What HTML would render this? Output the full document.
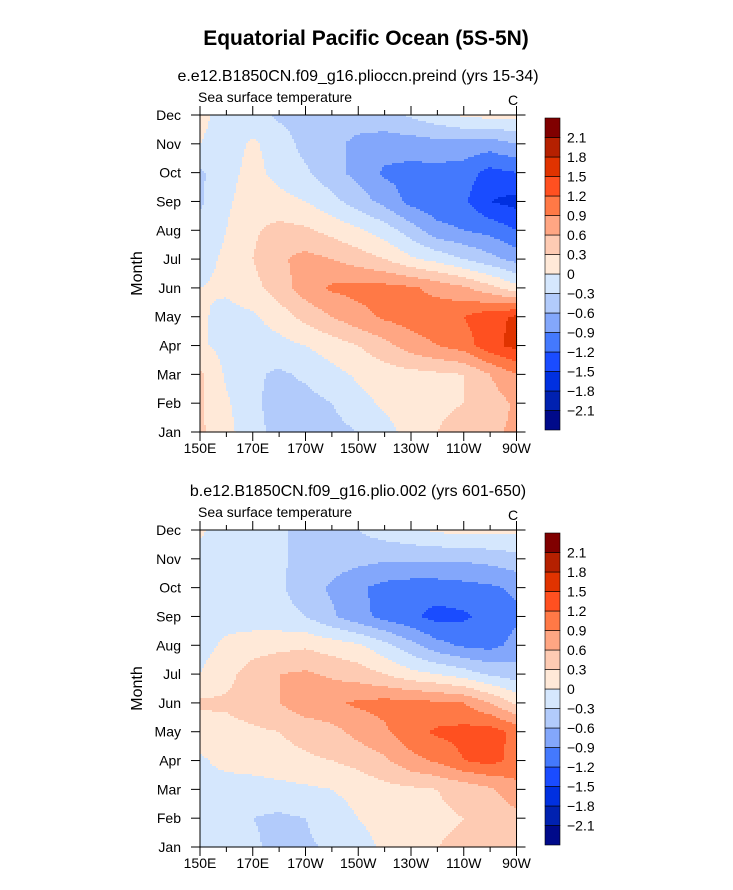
<!DOCTYPE html>
<html><head><meta charset="utf-8"><style>
body{margin:0;background:#fff;width:733px;height:890px;overflow:hidden}
svg{display:block}
text{font-family:"Liberation Sans",sans-serif;fill:#000}
</style></head><body>
<svg id="fig" width="733" height="890" xmlns="http://www.w3.org/2000/svg">
<text x="366" y="45" font-size="21" font-weight="bold" text-anchor="middle">Equatorial Pacific Ocean (5S-5N)</text>
</svg>
<script>
const months=["Jan","Feb","Mar","Apr","May","Jun","Jul","Aug","Sep","Oct","Nov","Dec"];
const lonTicks=["150E","170E","170W","150W","130W","110W","90W"];
const levels=[-2.1,-1.8,-1.5,-1.2,-0.9,-0.6,-0.3,0,0.3,0.6,0.9,1.2,1.5,1.8,2.1];
const levelLabels=["\u22122.1","\u22121.8","\u22121.5","\u22121.2","\u22120.9","\u22120.6","\u22120.3","0","0.3","0.6","0.9","1.2","1.5","1.8","2.1"];
const colors=["#000a8a","#0021b0","#0030e0","#1a4cff","#4479fd","#83a7fb","#b2cbfb","#d5e7fd","#ffe9d8","#fecbb3","#ffa683","#ff7946","#ff5020","#e03300","#b52000","#800000"];
// rows Jan..Dec, columns 150E..90W every 10 degrees
const sstA=[
[0.35,0.1,-0.2,-0.4,-0.45,-0.4,-0.3,-0.1,0.1,0.3,0.5,0.55,0.65],
[0.35,0.05,-0.25,-0.4,-0.4,-0.3,-0.1,0.05,0.15,0.2,0.3,0.45,0.65],
[0.35,-0.05,-0.25,-0.35,-0.25,-0.1,0.05,0.15,0.2,0.25,0.3,0.6,0.9],
[0.05,-0.1,-0.15,-0.1,0.0,0.15,0.3,0.5,0.75,0.9,1.05,1.4,1.6],
[0.05,-0.1,-0.05,0.15,0.4,0.6,0.8,0.95,1.05,1.1,1.2,1.4,1.55],
[0.0,0.05,0.2,0.45,0.75,0.95,1.0,1.0,0.95,0.8,0.65,0.4,0.1],
[-0.1,0.05,0.3,0.55,0.7,0.6,0.45,0.3,0.05,-0.1,-0.3,-0.5,-0.7],
[-0.2,0.0,0.25,0.4,0.35,0.2,0.05,-0.15,-0.45,-0.8,-0.9,-1.0,-1.2],
[-0.35,-0.05,0.15,0.1,0.0,-0.2,-0.45,-0.7,-1.0,-1.1,-1.15,-1.5,-1.6],
[-0.35,-0.1,0.1,-0.1,-0.25,-0.5,-0.7,-0.95,-1.0,-1.0,-1.05,-1.3,-1.2],
[0.0,-0.15,0.05,-0.15,-0.4,-0.5,-0.7,-0.75,-0.75,-0.7,-0.7,-0.75,-0.6],
[0.1,-0.15,-0.2,-0.35,-0.4,-0.4,-0.4,-0.4,-0.25,-0.1,0.05,0.1,0.1]];
const sstB=[
[-0.1,-0.15,-0.25,-0.4,-0.35,-0.25,-0.1,0.05,0.2,0.3,0.35,0.4,0.45],
[-0.1,-0.15,-0.3,-0.35,-0.3,-0.15,0.0,0.1,0.2,0.25,0.3,0.4,0.5],
[-0.1,-0.15,-0.15,-0.1,-0.05,0.0,0.1,0.2,0.25,0.3,0.4,0.55,0.8],
[-0.05,0.1,0.15,0.2,0.25,0.3,0.4,0.55,0.8,0.95,1.2,1.3,1.1],
[0.15,0.2,0.25,0.3,0.4,0.5,0.7,0.85,1.1,1.25,1.3,1.35,1.1],
[0.35,0.35,0.45,0.6,0.8,0.85,0.95,1.0,1.0,0.95,0.9,0.6,0.25],
[0.0,0.2,0.45,0.6,0.65,0.55,0.45,0.3,0.1,0.0,-0.15,-0.35,-0.45],
[-0.1,0.05,0.15,0.2,0.25,0.15,0.05,-0.2,-0.5,-0.8,-0.95,-1.0,-0.8],
[-0.05,-0.1,-0.15,-0.2,-0.3,-0.55,-0.8,-1.0,-1.15,-1.3,-1.25,-1.1,-0.95],
[-0.1,-0.15,-0.2,-0.25,-0.45,-0.65,-0.85,-1.0,-1.05,-1.05,-1.0,-0.95,-0.85],
[-0.1,-0.15,-0.2,-0.25,-0.4,-0.45,-0.5,-0.55,-0.55,-0.55,-0.55,-0.5,-0.4],
[0.05,-0.15,-0.2,-0.25,-0.4,-0.35,-0.3,-0.15,-0.05,0.05,0.1,0.1,0.05]];

const NS="http://www.w3.org/2000/svg";
const svg=document.getElementById('fig');
function mk(tag,attrs,parent){const e=document.createElementNS(NS,tag);for(const k in attrs)e.setAttribute(k,attrs[k]);(parent||svg).appendChild(e);return e;}
function colorIdx(v){let i=0;while(i<levels.length&&v>=levels[i])i++;return i;}

function panel(data,top,subtitle,key){
  const L=200,R=516.5,T=top,B=top+317;
  const g=mk('g',{});
  
  
  const nc=data[0].length,nr=data.length;
  const ys=r=>B-(B-T)*r/(nr-1);
  const st=2;
  const cells=mk('g',{},g);
  
  
  function val(px,py){
    const fc=(px-L)/(R-L)*(nc-1), fr=(B-py)/(B-T)*(nr-1);
    const c0=Math.max(0,Math.min(nc-2,Math.floor(fc))),r0=Math.max(0,Math.min(nr-2,Math.floor(fr)));
    const tx=Math.max(0,Math.min(1,fc-c0)),ty=Math.max(0,Math.min(1,fr-r0));
    const a=data[r0][c0],b=data[r0][c0+1],c=data[r0+1][c0],d=data[r0+1][c0+1];
    return a*(1-tx)*(1-ty)+b*tx*(1-ty)+c*(1-tx)*ty+d*tx*ty;
  }
  const ny=Math.ceil((B-T)/st), nx=Math.ceil((R-L)/st);
  for(let j=0;j<ny;j++){
    const y=T+j*st, h=Math.min(st,B-y);
    let runStart=0,runIdx=colorIdx(val(L+st/2,y+h/2));
    for(let i=1;i<=nx;i++){
      const idx=i<nx?colorIdx(val(L+i*st+st/2,y+h/2)):-1;
      if(idx!==runIdx){
        const x0=L+runStart*st, x1=Math.min(L+i*st,R);
        const r=mk('rect',{x:x0,y:y,width:x1-x0+0.6,height:h+0.6,fill:colors[runIdx]},cells);
        
        
        runStart=i;runIdx=idx;
      }
    }
  }
  const fr=mk('rect',{x:L,y:T,width:R-L,height:B-T,fill:'none',stroke:'#000','stroke-width':1},g);
  
  
  for(let m=0;m<12;m++){
    const y=ys(m);
    mk('line',{x1:L-9,x2:L,y1:y,y2:y,stroke:'#000'},g);
    mk('line',{x1:R,x2:R+9,y1:y,y2:y,stroke:'#000'},g);
    const t=mk('text',{x:L-19,y:y+5,'font-size':14,'text-anchor':'end'},g);
    t.textContent=months[m];
    
    
  }
  for(let i=0;i<=12;i++){
    const x=L+(R-L)*i/12, len=i%2===0?9:5;
    mk('line',{x1:x,x2:x,y1:B,y2:B+len,stroke:'#000'},g);
    mk('line',{x1:x,x2:x,y1:T-len,y2:T,stroke:'#000'},g);
  }
  lonTicks.forEach((s,i)=>{
    const t=mk('text',{x:L+(R-L)*i/6,y:B+21,'font-size':14,'text-anchor':'middle'},g);
    t.textContent=s;
    
    
  });
  const yt=mk('text',{x:0,y:0,'font-size':16,'text-anchor':'middle',fill:'#000',transform:`translate(142 ${(T+B)/2}) rotate(-90)`},g);
  yt.textContent='Month';
  
  
  const sub=mk('text',{x:358,y:T-34,'font-size':16,'text-anchor':'middle'},g);
  sub.textContent=subtitle;
  
  
  const vl=mk('text',{x:198,y:T-13,'font-size':14},g);
  vl.textContent='Sea surface temperature';
  
  
  const ul=mk('text',{x:513,y:T-10,'font-size':14,'text-anchor':'middle'},g);
  ul.textContent='C';
  
  
  const cb=mk('g',{},g);
  
  
  const cx=545,cw=15,ct=T+3,bh=19.5;
  for(let i=0;i<16;i++){
    const r=mk('rect',{x:cx,y:ct+(15-i)*bh,width:cw,height:bh,fill:colors[i],stroke:'#000','stroke-width':0.6},cb);
    
    
  }
  levels.forEach((lv,i)=>{
    const t=mk('text',{x:567,y:ct+(15-i)*bh+5,'font-size':14},cb);
    t.textContent=levelLabels[i];
    
    
  });
}
panel(sstA,115,"e.e12.B1850CN.f09_g16.plioccn.preind (yrs 15-34)","top");
panel(sstB,530,"b.e12.B1850CN.f09_g16.plio.002 (yrs 601-650)","bottom");
</script>
</body></html>
